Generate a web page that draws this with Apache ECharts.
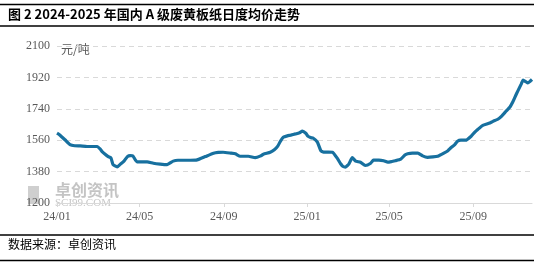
<!DOCTYPE html>
<html>
<head>
<meta charset="utf-8">
<script src="https://cdn.jsdelivr.net/npm/echarts@6/dist/echarts.min.js"></script>
<style>
  html, body { margin: 0; padding: 0; background: #fff; }
  #chart { width: 534px; height: 262px; }
</style>
</head>
<body>
<div id="chart"></div>
<script>
// daily average price of A-grade waste yellow board paper (yuan/ton)
const dates = [
  '2024-01-01', '2024-01-05', '2024-01-13', '2024-01-20', '2024-01-27', '2024-02-04', '2024-02-14',
  '2024-02-23', '2024-02-29', '2024-03-04', '2024-03-07', '2024-03-11', '2024-03-16', '2024-03-20',
  '2024-03-23', '2024-03-29', '2024-04-02', '2024-04-08', '2024-04-13', '2024-04-17', '2024-04-21',
  '2024-04-27', '2024-05-05', '2024-05-12', '2024-05-21', '2024-05-31', '2024-06-10', '2024-06-19',
  '2024-06-26', '2024-07-04', '2024-07-14', '2024-07-24', '2024-08-05', '2024-08-17', '2024-08-24',
  '2024-08-31', '2024-09-11', '2024-09-18', '2024-09-25', '2024-10-07', '2024-10-17', '2024-10-25',
  '2024-10-29', '2024-11-08', '2024-11-14', '2024-11-19', '2024-11-23', '2024-11-27', '2024-12-03',
  '2024-12-08', '2024-12-15', '2024-12-21', '2024-12-25', '2024-12-30', '2025-01-02', '2025-01-06',
  '2025-01-10', '2025-01-16', '2025-01-21', '2025-01-25', '2025-02-01', '2025-02-07', '2025-02-14',
  '2025-02-19', '2025-02-22', '2025-02-26', '2025-03-03', '2025-03-08', '2025-03-13', '2025-03-20',
  '2025-03-27', '2025-04-04', '2025-04-08', '2025-04-16', '2025-04-23', '2025-04-29', '2025-05-05',
  '2025-05-10', '2025-05-18', '2025-05-24', '2025-05-28', '2025-06-04', '2025-06-12', '2025-06-19',
  '2025-06-26', '2025-07-04', '2025-07-11', '2025-07-20', '2025-07-26', '2025-07-30', '2025-08-05',
  '2025-08-09', '2025-08-14', '2025-08-21', '2025-08-29', '2025-09-03', '2025-09-08', '2025-09-15',
  '2025-09-24', '2025-09-30', '2025-10-07', '2025-10-13', '2025-10-19', '2025-10-25', '2025-10-29',
  '2025-11-02', '2025-11-05', '2025-11-10', '2025-11-13', '2025-11-17', '2025-11-20', '2025-11-23',
  '2025-11-26'
];
const prices = [
  1600, 1590, 1561, 1535, 1528, 1527, 1524,
  1524, 1524, 1510, 1495, 1481, 1466, 1458,
  1420, 1407, 1420, 1440, 1466, 1472, 1470,
  1436, 1436, 1436, 1428, 1423, 1420, 1440,
  1445, 1445, 1445, 1447, 1466, 1485, 1490,
  1491, 1486, 1482, 1468, 1468, 1460, 1470,
  1480, 1491, 1505, 1526, 1555, 1577, 1585,
  1589, 1596, 1603, 1612, 1600, 1583, 1575,
  1571, 1549, 1500, 1492, 1492, 1491, 1457,
  1425, 1411, 1406, 1423, 1460, 1440, 1434,
  1415, 1428, 1446, 1446, 1442, 1434, 1438,
  1442, 1451, 1475, 1482, 1486, 1486, 1470,
  1462, 1464, 1468, 1486, 1500, 1515, 1535,
  1554, 1560, 1560, 1583, 1605, 1623, 1645,
  1657, 1668, 1680, 1700, 1726, 1752, 1780,
  1815, 1840, 1880, 1905, 1895, 1888, 1897,
  1908
];
const tickDates = ['2024-01-01', '2024-05-01', '2024-09-01', '2025-01-01', '2025-05-01', '2025-09-01'];
const yTicks = [1200, 1380, 1560, 1740, 1920, 2100];

const chart = echarts.init(document.getElementById('chart'));
const toTime = d => Date.UTC(+d.slice(0, 4), +d.slice(5, 7) - 1, +d.slice(8, 10));
const tickTimes = tickDates.map(toTime);
const fmt = v => {
  const d = new Date(v);
  return String(d.getUTCFullYear()).slice(2) + '/' + String(d.getUTCMonth() + 1).padStart(2, '0');
};

chart.setOption({
  animation: false,
  grid: { left: 57, right: 2, top: 46, bottom: 59, containLabel: false },
  xAxis: {
    type: 'value',
    min: tickTimes[0],
    max: toTime(dates[dates.length - 1]),
    axisLine: { lineStyle: { color: '#d9d9d9', width: 1 } },
    axisTick: { show: true, customValues: tickTimes, length: 4, lineStyle: { color: '#d9d9d9' } },
    axisLabel: {
      customValues: tickTimes,
      formatter: fmt,
      color: '#595959',
      fontSize: 12,
      fontFamily: 'Liberation Serif',
      margin: 8
    },
    splitLine: { show: false }
  },
  yAxis: {
    type: 'value',
    min: yTicks[0],
    max: yTicks[yTicks.length - 1],
    interval: 180,
    axisLine: { show: false },
    axisTick: { show: false },
    axisLabel: {
      color: '#595959', fontSize: 12, fontFamily: 'Liberation Serif', margin: 7,
      formatter: v => String(v)
    },
    splitLine: { lineStyle: { color: '#d9d9d9', type: [5, 4], width: 1 } }
  },
  series: [{
    type: 'line',
    data: dates.map((d, i) => [toTime(d), prices[i]]),
    showSymbol: false,
    smooth: 0.15,
    lineStyle: { color: '#17709f', width: 3.2 },
    itemStyle: { color: '#17709f' }
  }],
  graphic: [
    { type: 'line', shape: { x1: 0, y1: 4.5, x2: 534, y2: 4.5 }, style: { stroke: '#000', lineWidth: 1.5 } },
    {
      type: 'text', left: 8, top: 8,
      style: { text: '图 2 2024-2025 年国内 A 级废黄板纸日度均价走势', fill: '#000', font: 'bold 13px "Noto Sans CJK SC"' }
    },
    { type: 'line', shape: { x1: 0, y1: 26, x2: 534, y2: 26 }, style: { stroke: '#000', lineWidth: 1.5 } },
    {
      type: 'text', left: 61, top: 43,
      style: { text: '元/吨', fill: '#595959', font: '12px "Noto Sans CJK SC"' }
    },
    // watermark
    { type: 'rect', shape: { x: 28, y: 186, width: 11, height: 18 }, style: { fill: '#cfcfcf' } },
    {
      type: 'text', left: 55, top: 182,
      style: { text: '卓创资讯', fill: '#c4c4c4', font: 'bold 16px "Noto Sans CJK SC"' }
    },
    {
      type: 'text', left: 55, top: 198,
      style: { text: 'SCI99.COM', fill: '#c8c8c8', font: '11px "Liberation Serif"' }
    },
    { type: 'line', shape: { x1: 0, y1: 235, x2: 534, y2: 235 }, style: { stroke: '#000', lineWidth: 1.5 } },
    {
      type: 'text', left: 8, top: 238,
      style: { text: '数据来源：卓创资讯', fill: '#000', font: '12px "Noto Sans CJK SC"' }
    },
    { type: 'line', shape: { x1: 0, y1: 260.5, x2: 534, y2: 260.5 }, style: { stroke: '#000', lineWidth: 1.5 } }
  ]
});
</script>
</body>
</html>
